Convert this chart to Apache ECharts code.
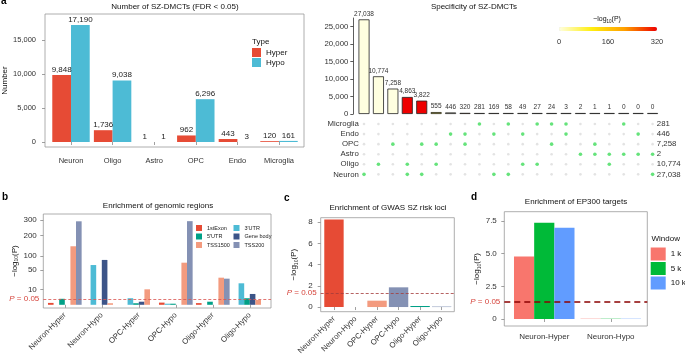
<!DOCTYPE html>
<html><head><meta charset="utf-8">
<script src="https://cdn.jsdelivr.net/npm/echarts@6/dist/echarts.min.js"></script>
<style>html,body{margin:0;padding:0;background:#fff}#c{width:685px;height:358px}</style>
</head><body><div id="c"></div><script>
// ---------- data ----------
const aCategories = ['Neuron','Oligo','Astro','OPC','Endo','Microglia'];
const aHyper = [9848,1736,1,962,443,120];
const aHypo = [17190,9038,1,6296,3,161];
const aYTicks = [0,5000,10000,15000];

const upsetCounts = [27038,10774,7258,4863,3822,555,446,320,281,169,58,49,27,24,3,2,1,1,0,0,0];
const upsetSets = [['Neuron'],['Oligo'],['OPC'],['Neuron','Oligo'],['Neuron','OPC'],['OPC','Oligo'],['Endo'],['Endo','OPC'],['Microglia'],['Endo','Neuron'],['Microglia','Neuron'],['Endo','Oligo'],['Microglia','Oligo'],['Microglia','OPC'],['Microglia','Endo'],['Astro'],['Astro','OPC'],['Astro','Oligo'],['Astro','Microglia'],['Astro','Endo'],['Astro','Neuron']];
const upsetLogP = [0,0,0,320,320,95,0,250,0,60,20,15,10,8,1,0,0,0,0,0,0];
const matrixRows = ['Microglia','Endo','OPC','Astro','Oligo','Neuron'];
const setSizes = ['281','446','7,258','2','10,774','27,038'];
const upsetYTicks = [0,5000,10000,15000,20000,25000];
const colorbarTicks = [0,160,320];

const bCategories = ['Neuron-Hyper','Neuron-Hypo','OPC-Hyper','OPC-Hypo','Oligo-Hyper','Oligo-Hypo'];
const bRegions = ['1stExon',"3'UTR","5'UTR",'Gene body','TSS1500','TSS200'];
const b1stExon  = [0.15, 0,   0,   0.2,  0.12, 0];
const b3UTR     = [0,    66,  1.8, 0.05, 0,    19.3];
const b5UTR     = [1.5,  0,   0.1, 0.05, 0.4,  1.8];
const bGeneBody = [0,    84,  0.4, 0,    0,    4.9];
const bTSS1500  = [143,  0.1, 10,  74,   30.7, 0.96];
const bTSS200   = [291,  0,   0,   292,  28.5, 0];
const bYTicks = [10,50,100,200,300];

const cCategories = ['Neuron-Hyper','Neuron-Hypo','OPC-Hyper','OPC-Hypo','Oligo-Hyper','Oligo-Hypo'];
const cValues = [8.25, 0, 0.6, 1.86, 0.1, 0.03];
const cYTicks = [0,2,4,6,8];

const dCategories = ['Neuron-Hyper','Neuron-Hypo'];
const dWindows = ['1 k','5 k','10 k'];
const d1k = [4.78, 0.02];
const d5k = [7.37, 0.02];
const d10k = [6.99, 0.02];
const dYTicks = [0,2.5,5,7.5];

const pThreshold = 1.301; // -log10(0.05)

// ---------- styles ----------
const FONT = '"Liberation Sans", Arial, Helvetica, sans-serif';
const TXT = '#333';
const BORDER = '#999';
const npg = ['#E64B35','#4DBBD5','#00A087','#3C5488','#F39B7F','#8491B4'];
const cColors = ['#E64B35','#4DBBD5','#F39B7F','#8491B4','#00A087','#3C5488'];
const dColors = ['#F8766D','#00BA38','#619CFF'];
const heat = ['#FFFFE0','#FFEE10','#FFA000','#EE0000'];
const fmtComma = v => Number(v).toLocaleString('en-US');
const logName = '−log{sub|10}(P)';
const subRich = {sub:{fontSize:5, fontFamily:FONT, color:TXT, padding:[4,0,0,0]}};
const pLabelRich = {i:{fontStyle:'italic', fontSize:8, color:'#D6453D', fontFamily:FONT}};

function boxGrid(l,t,w,h){return {left:l,top:t,width:w,height:h,show:true,borderColor:BORDER,borderWidth:0.8,backgroundColor:'transparent'};}
function plainGrid(l,t,w,h){return {left:l,top:t,width:w,height:h,show:false};}
function hiddenValX(g){return {gridIndex:g,type:'value',min:0,max:1,show:false};}
function hiddenValY(g,min,max){return {gridIndex:g,type:'value',min:min,max:max,show:false};}
function shownValY(g,min,max,ticks,fmt,margin,name,nameGap,fs){
  return {gridIndex:g,type:'value',min:min,max:max,
    axisLine:{show:false},splitLine:{show:false},
    axisTick:{show:true,length:3,lineStyle:{color:'#888',width:0.8},customValues:ticks},
    axisLabel:{customValues:ticks,formatter:fmt,fontSize:fs,color:TXT,fontFamily:FONT,margin:margin},
    name:name,nameLocation:'middle',nameGap:nameGap,nameRotate:90,
    nameTextStyle:{fontSize:8,color:'#111',fontFamily:FONT,rich:subRich}};
}
function catX(g,data,rotate,margin,fs){
  return {gridIndex:g,type:'category',data:data,
    axisLine:{show:false},splitLine:{show:false},
    axisTick:{show:true,alignWithLabel:true,length:3,lineStyle:{color:'#888',width:0.8}},
    axisLabel:{rotate:rotate,margin:margin,fontSize:fs,color:TXT,fontFamily:FONT,interval:0}};
}
function thresholdSeries(xi,yi,y,color,width,dash){
  return {type:'line',xAxisIndex:xi,yAxisIndex:yi,data:[[0.5,y]],showSymbol:false,symbol:'none',silent:true,
    lineStyle:{opacity:0},
    markLine:{symbol:'none',silent:true,animation:false,
      lineStyle:{color:color,width:width,type:dash},
      label:{show:true,position:'start',distance:4,formatter:'{i|P} = 0.05',color:'#D6453D',fontSize:8,fontFamily:FONT,rich:pLabelRich},
      data:[{yAxis:y}]}};
}

// ---------- layout ----------
const grids = [
  boxGrid(45,14,259,133),          //0 a box
  plainGrid(50.2,14,249.6,133),    //1 a data
  plainGrid(353.3,18,300,96),      //2 upset y axis
  plainGrid(356.8,18,303,96),      //3 upset bars
  plainGrid(356.8,119,303,60.4),   //4 matrix
  plainGrid(559,27,98,4),          //5 colorbar axis
  boxGrid(43.3,214,227.7,94),      //6 b box
  plainGrid(46.3,214,222,94),      //7 b data
  boxGrid(320.7,217.7,133.6,94),   //8 c box
  plainGrid(323.2,217.7,129.2,94), //9 c data
  boxGrid(504.3,211.7,143,114.3),  //10 d box
  plainGrid(511,211.7,133,114.3)   //11 d data
];

const colIdx = upsetCounts.map((_,i)=>String(i));

const xAxes = [
  hiddenValX(0),
  catX(1,aCategories,0,10,7.5),
  hiddenValX(2),
  {gridIndex:3,type:'category',data:colIdx,show:false},
  {gridIndex:4,type:'category',data:colIdx,show:false},
  {gridIndex:5,type:'value',min:0,max:320,axisLine:{show:false},splitLine:{show:false},
    axisTick:{show:true,inside:true,length:2,lineStyle:{color:'#fff',width:0.8},customValues:colorbarTicks},
    axisLabel:{customValues:colorbarTicks,fontSize:7.5,color:TXT,fontFamily:FONT,margin:7}},
  hiddenValX(6),
  catX(7,bCategories,45,6,7.8),
  hiddenValX(8),
  catX(9,cCategories,45,6,7.8),
  hiddenValX(10),
  catX(11,dCategories,0,7,8)
];

const bMin = -0.654, bMax = 18.55;
const yAxes = [
  shownValY(0,-735,18824,aYTicks,fmtComma,9,'Number',33,7.5),
  hiddenValY(1,-735,18824),
  {gridIndex:2,type:'value',min:0,max:27430,
    axisLine:{show:true,lineStyle:{color:'#333',width:0.8}},splitLine:{show:false},
    axisTick:{show:true,length:3,lineStyle:{color:'#333',width:0.8},customValues:upsetYTicks},
    axisLabel:{customValues:upsetYTicks,formatter:fmtComma,fontSize:7.8,color:TXT,fontFamily:FONT,margin:5}},
  hiddenValY(3,0,27430),
  {gridIndex:4,type:'category',data:matrixRows,inverse:true,axisLine:{show:false},axisTick:{show:false},
    axisLabel:{interval:0,fontSize:7.8,color:TXT,fontFamily:FONT,margin:-2}},
  {gridIndex:4,type:'category',data:setSizes,inverse:true,position:'right',axisLine:{show:false},axisTick:{show:false},
    axisLabel:{interval:0,fontSize:7.8,color:TXT,fontFamily:FONT,margin:-3}},
  hiddenValY(5,0,1),
  shownValY(6,bMin,bMax,bYTicks.map(Math.sqrt),v=>String(Math.round(v*v)),6.5,logName,22,8),
  hiddenValY(7,bMin,bMax),
  shownValY(8,-0.44,8.43,cYTicks,v=>String(v),8,logName,22,8),
  hiddenValY(9,-0.44,8.43),
  shownValY(10,-0.536,8.21,dYTicks,v=>v===0?'0':v.toFixed(1),7.5,logName,22,8),
  hiddenValY(11,-0.536,8.21)
];

const series = [];
// a
series.push({name:'Hyper',type:'bar',xAxisIndex:1,yAxisIndex:1,data:aHyper,barGap:'0%',barCategoryGap:'10%',
  itemStyle:{color:npg[0]},label:{show:true,position:'top',distance:1.5,formatter:p=>fmtComma(p.value),fontSize:8,color:'#222',fontFamily:FONT}});
series.push({name:'Hypo',type:'bar',xAxisIndex:1,yAxisIndex:1,data:aHypo,barGap:'0%',barCategoryGap:'10%',
  itemStyle:{color:npg[1]},label:{show:true,position:'top',distance:1.5,formatter:p=>fmtComma(p.value),fontSize:8,color:'#222',fontFamily:FONT}});
// upset bars (index 2)
series.push({name:'upset',type:'bar',xAxisIndex:3,yAxisIndex:3,barWidth:11,barMinHeight:1,
  data:upsetCounts.map((v,i)=>[i,v,upsetLogP[i]]),encode:{x:0,y:1},
  itemStyle:{borderColor:'#222',borderWidth:0.8},
  label:{show:true,position:'top',distance:2,formatter:p=>fmtComma(p.value[1]),fontSize:6.5,color:'#333',fontFamily:FONT}});
// matrix
const inactive=[], active=[];
upsetSets.forEach((s,i)=>matrixRows.forEach((r,j)=>{(s.includes(r)?active:inactive).push([i,j]);}));
series.push({type:'scatter',xAxisIndex:4,yAxisIndex:4,data:inactive,symbolSize:2.6,itemStyle:{color:'#dcdcdc'},silent:true});
series.push({type:'scatter',xAxisIndex:4,yAxisIndex:4,data:active,symbolSize:3.6,itemStyle:{color:'#3FDC5A'},silent:true});
// b
const bData = [b1stExon,b3UTR,b5UTR,bGeneBody,bTSS1500,bTSS200];
bRegions.forEach((r,i)=>series.push({name:r,type:'bar',xAxisIndex:7,yAxisIndex:8,data:bData[i].map(Math.sqrt),
  barGap:'0%',barCategoryGap:'9%',itemStyle:{color:npg[i]}}));
series.push(thresholdSeries(6,7,Math.sqrt(pThreshold),'#D9534F',0.8,[3,2]));
// c
series.push({name:'GWAS',type:'bar',xAxisIndex:9,yAxisIndex:10,barCategoryGap:'10%',
  data:cValues.map((v,i)=>({value:v,itemStyle:{color:cColors[i]}}))});
series.push(thresholdSeries(8,9,pThreshold,'#A33B3B',0.8,[3,2]));
// d
[d1k,d5k,d10k].forEach((arr,i)=>series.push({name:dWindows[i],type:'bar',xAxisIndex:11,yAxisIndex:12,data:arr,
  barGap:'0%',barCategoryGap:'9%',itemStyle:{color:dColors[i]}}));
series.push(thresholdSeries(10,11,pThreshold,'#8B0000',1.5,[6,4]));

const titleStyle = {fontSize:8,fontWeight:'normal',color:'#111',fontFamily:FONT};
const letterStyle = {fontSize:10,fontWeight:'bold',color:'#000',fontFamily:FONT};
function T(text,x,y,style,align){return {text:text,left:x,top:y,padding:0,textAlign:align||'left',textStyle:style};}

const option = {
  animation:false,
  textStyle:{fontFamily:FONT},
  title:[
    T('a',1,-4,letterStyle),
    T('Number of SZ-DMCTs (FDR < 0.05)',175,3,titleStyle,'center'),
    T('Type',252,37.5,{fontSize:8,fontWeight:'normal',color:'#111',fontFamily:FONT}),
    T('Specificity of SZ-DMCTs',474,3,titleStyle,'center'),
    T(logName,607,15,{fontSize:7,fontWeight:'normal',color:'#111',fontFamily:FONT,rich:{sub:{fontSize:4.5,padding:[4,0,0,0],fontFamily:FONT,color:'#111'}}},'center'),
    T('b',2,192,letterStyle),
    T('Enrichment of genomic regions',158,201.5,titleStyle,'center'),
    T('c',284,193,letterStyle),
    T('Enrichment of GWAS SZ risk loci',388,204,titleStyle,'center'),
    T('d',471,192,letterStyle),
    T('Enrichment of EP300 targets',576,198,titleStyle,'center'),
    T('Window',651.5,234.5,{fontSize:8,fontWeight:'normal',color:'#111',fontFamily:FONT})
  ],
  legend:[
    {data:['Hyper','Hypo'],orient:'vertical',left:252,top:48,padding:0,itemWidth:9,itemHeight:9,itemGap:1,icon:'rect',
      textStyle:{fontSize:8,color:'#111',fontFamily:FONT},selectedMode:false},
    {data:['1stExon',"5'UTR",'TSS1500'],orient:'vertical',left:196,top:225,padding:0,itemWidth:6,itemHeight:6,itemGap:2.5,icon:'rect',
      textStyle:{fontSize:5.5,color:'#222',fontFamily:FONT},selectedMode:false},
    {data:["3'UTR",'Gene body','TSS200'],orient:'vertical',left:233.5,top:225,padding:0,itemWidth:6,itemHeight:6,itemGap:2.5,icon:'rect',
      textStyle:{fontSize:5.5,color:'#222',fontFamily:FONT},selectedMode:false},
    {data:dWindows,orient:'vertical',left:650.7,top:247.5,padding:0,itemWidth:15,itemHeight:13,itemGap:1.5,icon:'rect',
      textStyle:{fontSize:8,color:'#111',fontFamily:FONT},selectedMode:false}
  ],
  visualMap:[{type:'continuous',seriesIndex:2,dimension:2,min:0,max:320,orient:'horizontal',left:559,top:27,
    itemWidth:4,itemHeight:98,padding:0,calculable:false,showLabel:false,text:null,hoverLink:false,
    inRange:{color:heat}}],
  grid:grids,xAxis:xAxes,yAxis:yAxes,series:series
};
const chart = echarts.init(document.getElementById('c'),null,{renderer:'canvas'});
chart.setOption(option);
</script></body></html>
